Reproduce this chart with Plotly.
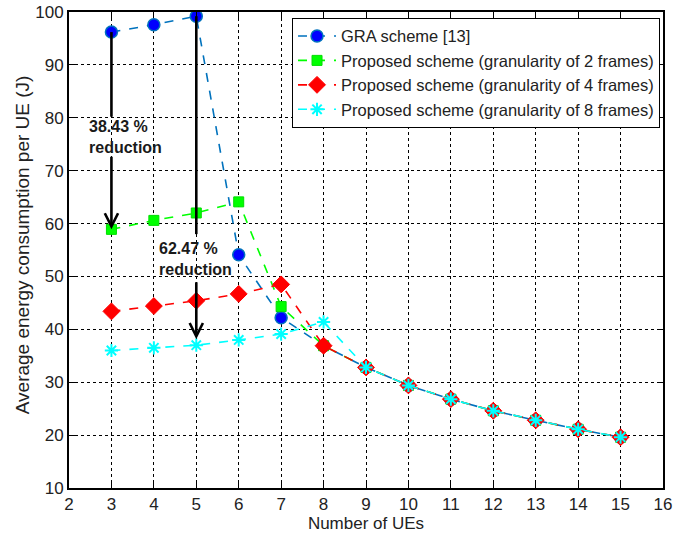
import plotly.graph_objects as go

num_ues = [3, 4, 5, 6, 7, 8, 9, 10, 11, 12, 13, 14, 15]
gra_scheme = [96.2, 97.6, 99.2, 54.1, 42.2, 36.9, 32.8, 29.4, 26.8, 24.6, 22.8, 21.1, 19.6]
proposed_2 = [58.9, 60.6, 62.0, 64.1, 44.3, 36.9, 32.8, 29.4, 26.8, 24.6, 22.8, 21.1, 19.6]
proposed_4 = [43.4, 44.4, 45.4, 46.7, 48.5, 36.9, 32.8, 29.4, 26.8, 24.6, 22.8, 21.1, 19.6]
proposed_8 = [36.0, 36.5, 37.0, 38.0, 39.1, 41.4, 32.8, 29.4, 26.8, 24.6, 22.8, 21.1, 19.6]

series_names = [
    "GRA scheme [13]",
    "Proposed scheme (granularity of 2 frames)",
    "Proposed scheme (granularity of 4 frames)",
    "Proposed scheme (granularity of 8 frames)",
]
reduction_labels = ["38.43 %<br>reduction", "62.47 %<br>reduction"]
x_title = "Number of UEs"
y_title = "Average energy consumption per UE (J)"

FONT = "Liberation Sans, Arial, sans-serif"

fig = go.Figure()
fig.add_trace(go.Scatter(
    x=num_ues, y=gra_scheme, name=series_names[0], mode="lines+markers",
    line=dict(color="#0072BD", dash="dash", width=1.6),
    marker=dict(symbol="circle", size=12, color="#0000FF",
                line=dict(color="#0072BD", width=1.5))))
fig.add_trace(go.Scatter(
    x=num_ues, y=proposed_2, name=series_names[1], mode="lines+markers",
    line=dict(color="#00FF00", dash="dash", width=1.6),
    marker=dict(symbol="square", size=10, color="#00FF00",
                line=dict(color="#00DD00", width=1))))
fig.add_trace(go.Scatter(
    x=num_ues, y=proposed_4, name=series_names[2], mode="lines+markers",
    line=dict(color="#FF0000", dash="dash", width=1.6),
    marker=dict(symbol="diamond", size=13, color="#FF0000",
                line=dict(color="#FF0000", width=1))))
fig.add_trace(go.Scatter(
    x=num_ues, y=proposed_8, name=series_names[3], mode="lines+markers",
    line=dict(color="#00FFFF", dash="dash", width=1.6),
    marker=dict(symbol="asterisk-open", size=11, color="#00FFFF",
                line=dict(color="#00FFFF", width=2))))

# Reduction arrows (x = 3 and x = 5)
i1, i2 = 0, 2
x1, x2 = num_ues[i1], num_ues[i2]
shapes = [
    dict(type="line", xref="x", yref="y", x0=x1, x1=x1,
         y0=gra_scheme[i1], y1=80.2, line=dict(color="black", width=2.6)),
    dict(type="line", xref="x", yref="y", x0=x2, x1=x2,
         y0=gra_scheme[i2], y1=58.0, line=dict(color="black", width=2.6)),
]
annotations = [
    dict(x=x1, y=proposed_2[i1], ax=x1, ay=72.9, xref="x", yref="y",
         axref="x", ayref="y", showarrow=True, arrowhead=5, arrowsize=1,
         arrowwidth=2.6, arrowcolor="black", text=""),
    dict(x=x2, y=proposed_8[i2], ax=x2, ay=49.2, xref="x", yref="y",
         axref="x", ayref="y", showarrow=True, arrowhead=5, arrowsize=1,
         arrowwidth=2.6, arrowcolor="black", text="", standoff=6),
    dict(x=2.43, y=76.3, xref="x", yref="y", text="<b>" + reduction_labels[0] + "</b>",
         showarrow=False, xanchor="left", align="left",
         font=dict(family=FONT, size=16, color="#1a1a1a")),
    dict(x=4.08, y=53.3, xref="x", yref="y", text="<b>" + reduction_labels[1] + "</b>",
         showarrow=False, xanchor="left", align="left",
         font=dict(family=FONT, size=16, color="#1a1a1a")),
    # y-axis title as a rotated annotation for precise placement
    dict(x=0, y=0.51, xref="paper", yref="paper", xanchor="center", yanchor="middle",
         xshift=-47, text=y_title, textangle=-90, showarrow=False,
         font=dict(family=FONT, size=19, color="#222")),
]

axis_common = dict(
    showline=True, linecolor="black", linewidth=2, mirror="ticks",
    ticks="inside", ticklen=6, tickcolor="black", tickwidth=1,
    showgrid=True, gridcolor="black", gridwidth=1, griddash="dot",
    zeroline=False, automargin=False, ticklabeloverflow="allow",
    tickfont=dict(family=FONT, size=17, color="#222"),
)

fig.update_layout(
    width=687, height=535,
    margin=dict(l=69, r=24, t=12, b=47),
    paper_bgcolor="white", plot_bgcolor="white",
    font=dict(family=FONT, size=17, color="#222"),
    xaxis=dict(range=[2, 16], dtick=1, tick0=2,
               title=dict(text=x_title, font=dict(family=FONT, size=17), standoff=4),
               **axis_common),
    yaxis=dict(range=[10, 100], dtick=10, tick0=10, **axis_common),
    legend=dict(x=0.995, y=0.988, xanchor="right", yanchor="top",
                bgcolor="white", bordercolor="black", borderwidth=1,
                font=dict(family=FONT, size=16.5, color="#222"),
                tracegroupgap=0, itemwidth=38),
    shapes=shapes, annotations=annotations, showlegend=True,
)

fig.write_html(
    "out.html",
    config={"displayModeBar": False},
    post_script="document.body.style.margin='0px';document.body.style.overflow='hidden';",
)
